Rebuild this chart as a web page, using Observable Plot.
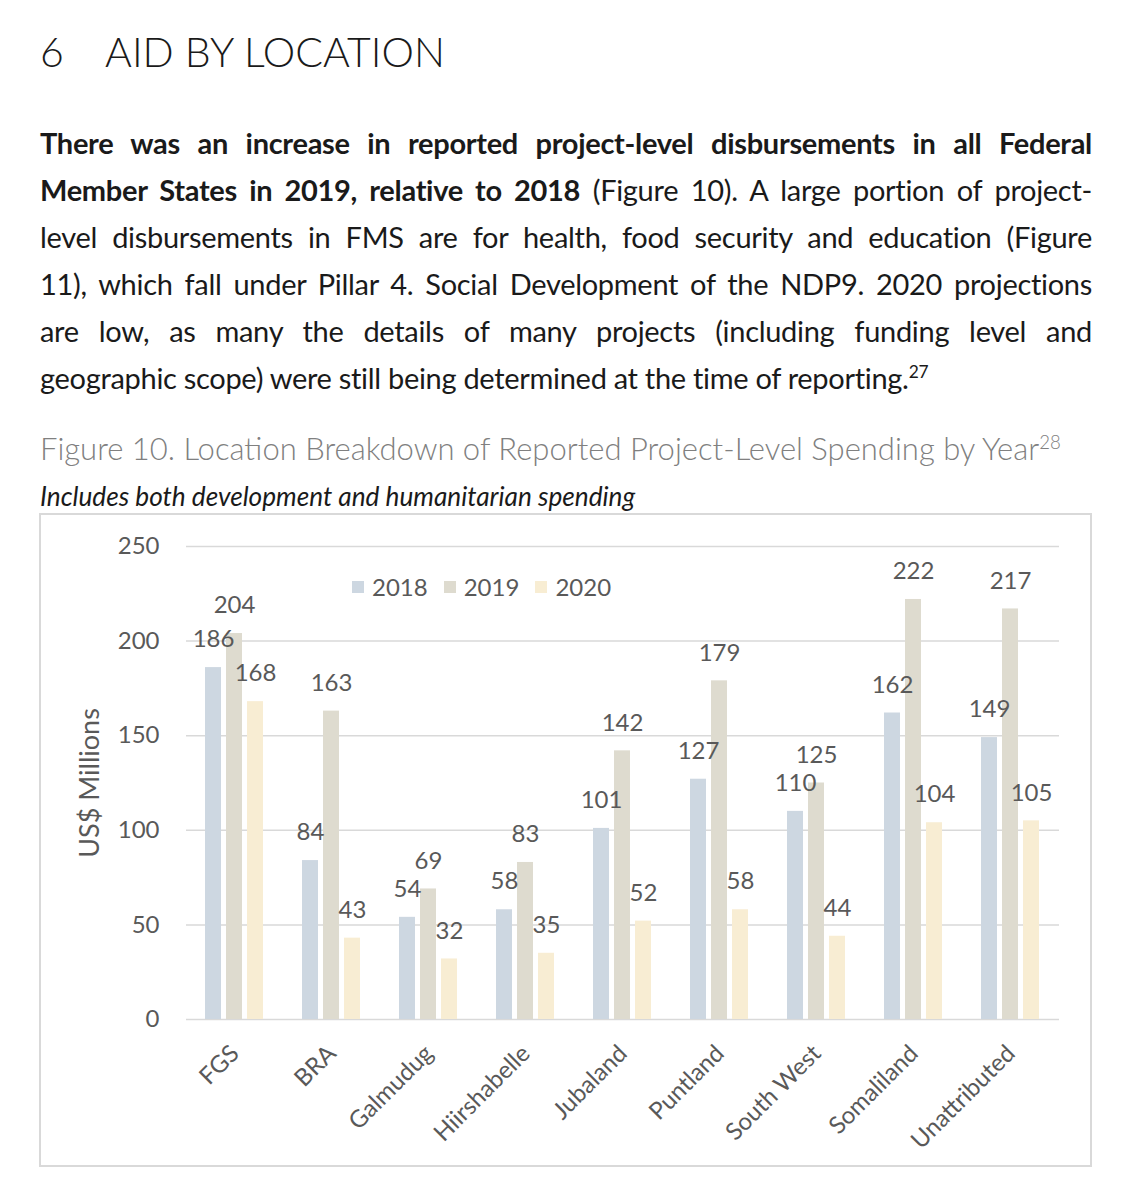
<!DOCTYPE html>
<html><head><meta charset="utf-8">
<script src="https://cdn.jsdelivr.net/npm/d3@7"></script>
<script src="https://cdn.jsdelivr.net/npm/@observablehq/plot@0.6"></script>
<style>
body{margin:0;width:1125px;height:1185px;position:relative;background:#fff;font-family:Lato,"Open Sans",sans-serif;color:#1a1a1a;}
.abs{position:absolute;}
#h1{left:40px;top:27px;font-size:41px;font-weight:300;line-height:50px;white-space:nowrap}
#h1 .num{display:inline-block;width:65px}
#para{left:40px;top:119px;width:1052px;font-size:29px;letter-spacing:-0.3px;line-height:47px}
#para div{text-align:justify;text-align-last:justify;height:47px;overflow:visible}
#para div.last{text-align-last:left}
sup{font-size:60%;vertical-align:super;line-height:0}
#cap{left:40px;top:428px;font-size:31px;font-weight:300;color:#808080;white-space:nowrap;line-height:40px}
#sub{left:40px;top:481px;font-style:italic;font-size:26.2px;white-space:nowrap;line-height:30px}
#box{left:39px;top:513px;width:1053px;height:654px;box-sizing:border-box;border:2px solid #d9d9d9}
#chart{left:40px;top:514px}
#legend{left:352px;top:573px;display:flex;align-items:center;font-size:24px;color:#595959;line-height:28px}
#legend .sw{width:12px;height:12px;display:inline-block;margin-right:8px}
#legend .it{display:flex;align-items:center;margin-right:16px}
</style></head>
<body>
<div id="h1" class="abs"><span class="num">6</span>AID BY LOCATION</div>
<div id="para" class="abs">
<div><b>There was an increase in reported project-level disbursements in all Federal</b></div>
<div><b>Member States in 2019, relative to 2018</b> (Figure 10). A large portion of project-</div>
<div>level disbursements in FMS are for health, food security and education (Figure</div>
<div>11), which fall under Pillar 4. Social Development of the NDP9. 2020 projections</div>
<div>are low, as many the details of many projects (including funding level and</div>
<div class="last">geographic scope) were still being determined at the time of reporting.<sup>27</sup></div>
</div>
<div id="cap" class="abs">Figure 10. Location Breakdown of Reported Project-Level Spending by Year<sup>28</sup></div>
<div id="sub" class="abs">Includes both development and humanitarian spending</div>
<div id="box" class="abs"></div>
<div id="chart" class="abs"></div>
<div id="legend" class="abs"></div>
<script>
const categories = ["FGS","BRA","Galmudug","Hiirshabelle","Jubaland","Puntland","South West","Somaliland","Unattributed"];
const years = ["2018","2019","2020"];
const values2018 = [186,84,54,58,101,127,110,162,149];
const values2019 = [204,163,69,83,142,179,125,222,217];
const values2020 = [168,43,32,35,52,58,44,104,105];
const yTicks = [0,50,100,150,200,250];
const colors = ["#cdd7e1","#dedbcf","#f8edd3"];

const series = [values2018, values2019, values2020];
const rows = [];
categories.forEach((c,i)=>years.forEach((y,j)=>rows.push({category:c, year:y, value:series[j][i]})));

const chart = Plot.plot({
  width:1050, height:650,
  marginLeft:145, marginRight:30, marginTop:32, marginBottom:145,
  style:{fontFamily:"Lato, 'Open Sans', sans-serif", fontSize:"24px", color:"#595959", background:"transparent"},
  fx:{domain:categories, paddingInner:0, paddingOuter:0, label:null},
  x:{domain:years, paddingInner:0.227, paddingOuter:0.823, axis:null},
  y:{domain:[0,250]},
  color:{domain:years, range:colors},
  marks:[
    Plot.gridY(yTicks, {stroke:"#d9d9d9", strokeOpacity:1, strokeWidth:1.5}),
    Plot.axisY(yTicks, {tickSize:0, tickPadding:27, label:null, fontSize:24, fill:"#595959"}),
    Plot.axisY([], {tickSize:0, label:"US$ Millions", labelAnchor:"center", labelArrow:"none", labelOffset:107, fontSize:27, fill:"#595959"}),
    Plot.barY(rows, {fx:"category", x:"year", y:"value", fill:"year"}),
    Plot.text(rows, {fx:"category", x:"year", y:"value", text:d=>String(d.value), dy:-28, fontSize:24, fill:"#595959"}),
    Plot.axisFx({anchor:"bottom", tickRotate:-45, tickSize:0, tickPadding:30, label:null, fontSize:24, fill:"#595959"})
  ]
});
document.getElementById("chart").appendChild(chart);

const leg = document.getElementById("legend");
years.forEach((y,j)=>{
  const it = document.createElement("span"); it.className="it";
  const sw = document.createElement("span"); sw.className="sw"; sw.style.background=colors[j];
  it.appendChild(sw); it.appendChild(document.createTextNode(y));
  leg.appendChild(it);
});
</script>
</body></html>
